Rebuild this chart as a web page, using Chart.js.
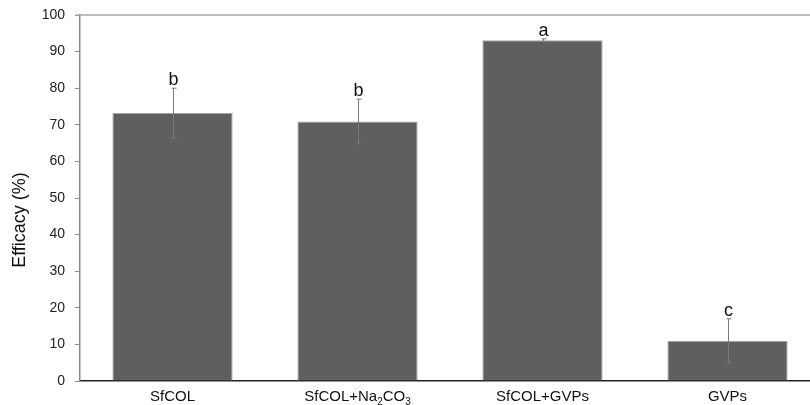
<!DOCTYPE html>
<html>
<head>
<meta charset="utf-8">
<script src="https://cdn.jsdelivr.net/npm/chart.js@4.4.1/dist/chart.umd.min.js"></script>
<style>
  html, body { margin: 0; padding: 0; background: #fff; overflow: hidden; }
  #wrap { width: 820px; height: 405px; }
</style>
</head>
<body>
<div id="wrap"><canvas id="myChart"></canvas></div>
<script>
// Données du graphique
const categories = ['SfCOL', 'SfCOL+Na2CO3', 'SfCOL+GVPs', 'GVPs'];
const efficacy = [73.2, 70.9, 93.1, 11.0];
const errors = [6.8, 6.1, 0.4, 6.0];
const letters = ['b', 'b', 'a', 'c'];
const yTicks = [0, 10, 20, 30, 40, 50, 60, 70, 80, 90, 100];

// Barres d'erreur, lettres, bordure et étiquettes avec indices
const extras = {
    id: 'extras',
    afterDatasetsDraw(chart) {
        const ctx = chart.ctx;
        const x = chart.scales.x;
        const y = chart.scales.y;
        const area = chart.chartArea;
        ctx.save();

        // bordure du haut
        ctx.strokeStyle = '#a8a8a8';
        ctx.lineWidth = 1.5;
        ctx.beginPath();
        ctx.moveTo(area.left - 4, area.top);
        ctx.lineTo(area.right, area.top);
        ctx.stroke();

        // barres d'erreur
        ctx.strokeStyle = '#7a7a7a';
        ctx.lineWidth = 1;
        efficacy.forEach((v, i) => {
            const cx = Math.round(x.getPixelForValue(i)) + 0.5;
            const top = y.getPixelForValue(v + errors[i]);
            const bot = y.getPixelForValue(v - errors[i]);
            ctx.beginPath();
            ctx.moveTo(cx, bot);
            ctx.lineTo(cx, top);
            ctx.moveTo(cx - 2, top);
            ctx.lineTo(cx + 3, top);
            ctx.moveTo(cx - 2, bot);
            ctx.lineTo(cx + 3, bot);
            ctx.stroke();

            // lettres
            ctx.fillStyle = '#111';
            ctx.font = '18px "Liberation Sans", Arial, sans-serif';
            ctx.textAlign = 'center';
            ctx.textBaseline = 'alphabetic';
            ctx.fillText(letters[i], cx, top - 3);
        });

        // étiquettes de l'axe x (chiffres en indice)
        ctx.fillStyle = '#111';
        ctx.textBaseline = 'alphabetic';
        ctx.textAlign = 'left';
        const bigFont = '15px "Liberation Sans", Arial, sans-serif';
        const smallFont = '10px "Liberation Sans", Arial, sans-serif';
        categories.forEach((label, i) => {
            const parts = label.split(/(\d+)/).filter(s => s.length);
            let w = 0;
            parts.forEach(p => {
                ctx.font = /^\d+$/.test(p) ? smallFont : bigFont;
                w += ctx.measureText(p).width;
            });
            let px = x.getPixelForValue(i) - w / 2;
            parts.forEach(p => {
                const sub = /^\d+$/.test(p);
                ctx.font = sub ? smallFont : bigFont;
                ctx.fillText(p, px, sub ? 405 : 401);
                px += ctx.measureText(p).width;
            });
        });

        // titre de l'axe y
        ctx.translate(20, 220);
        ctx.rotate(-Math.PI / 2);
        ctx.textAlign = 'center';
        ctx.textBaseline = 'middle';
        ctx.font = '18px "Liberation Sans", Arial, sans-serif';
        ctx.fillStyle = '#111';
        ctx.fillText('Efficacy (%)', 0, 0);
        ctx.restore();
    }
};

const ctx1 = document.getElementById('myChart').getContext('2d');
const myChart = new Chart(ctx1, {
    type: 'bar',
    data: {
        labels: categories,
        datasets: [{
            data: efficacy,
            backgroundColor: '#5f5f5f',
            borderColor: '#a3a3a3',
            borderWidth: 1,
            categoryPercentage: 1,
            barPercentage: 0.65
        }]
    },
    plugins: [extras],
    options: {
        responsive: true,
        maintainAspectRatio: false,
        animation: false,
        layout: { padding: { top: 15, left: 0, right: 0, bottom: 0 } },
        plugins: {
            legend: { display: false },
            tooltip: { enabled: false }
        },
        scales: {
            x: {
                ticks: { display: false },
                grid: { display: false },
                border: { color: '#222', width: 1.5 },
                afterFit(scale) { scale.height = 24; scale.paddingLeft = 0; scale.paddingRight = 0; }
            },
            y: {
                min: 0,
                max: 100,
                afterBuildTicks(scale) { scale.ticks = yTicks.map(v => ({ value: v })); },
                ticks: {
                    padding: 10,
                    color: '#222',
                    font: { family: '"Liberation Sans", Arial, sans-serif', size: 14 }
                },
                grid: { drawOnChartArea: false, tickLength: 5, color: '#8a8a8a' },
                border: { color: '#8a8a8a', width: 1.5 },
                afterFit(scale) { scale.width = 80; scale.paddingTop = 0; scale.paddingBottom = 0; }
            }
        }
    }
});
</script>
</body>
</html>
